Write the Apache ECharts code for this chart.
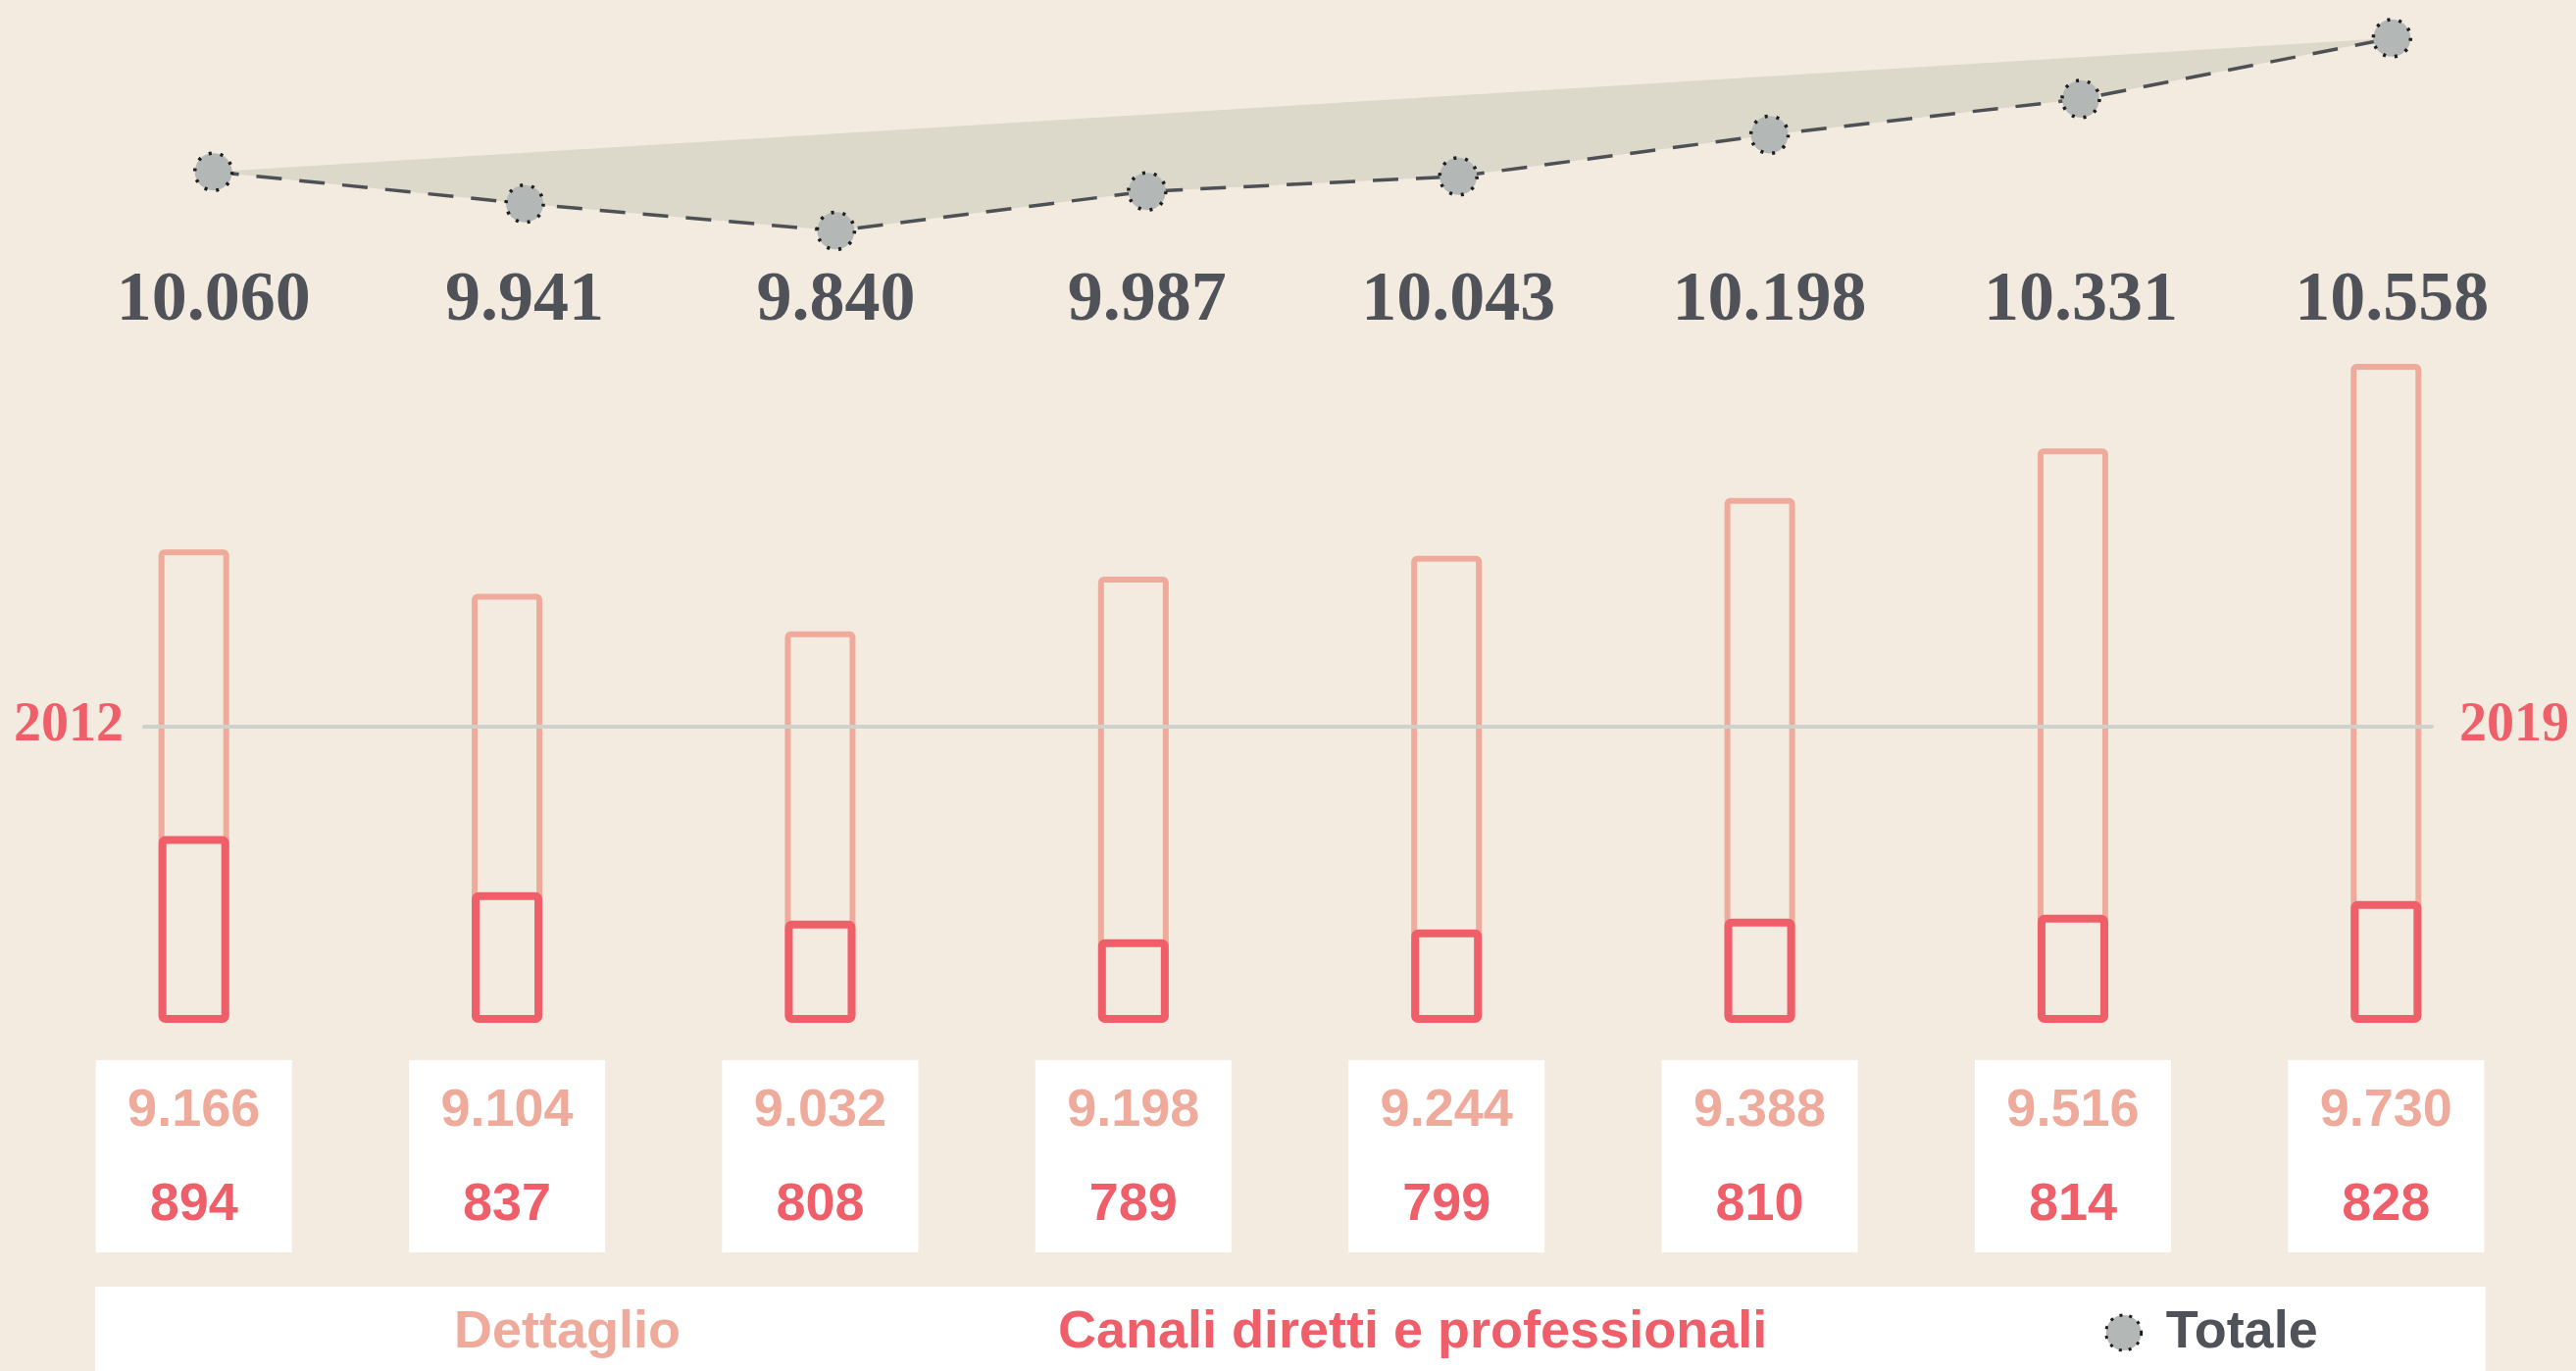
<!DOCTYPE html>
<html>
<head>
<meta charset="utf-8">
<script src="https://cdn.jsdelivr.net/npm/echarts@6/dist/echarts.min.js"></script>
<style>
  html, body { margin: 0; padding: 0; background: #f4ebe0; }
  #chart { width: 2627px; height: 1398px; }
</style>
</head>
<body>
<div id="chart"></div>
<script>
const years = ['2012', '2013', '2014', '2015', '2016', '2017', '2018', '2019']
const totale = [10060, 9941, 9840, 9987, 10043, 10198, 10331, 10558]
const dettaglio = [9166, 9104, 9032, 9198, 9244, 9388, 9516, 9730]
const canali = [894, 837, 808, 789, 799, 810, 814, 828]

const salmon = '#eeaa9a'
const red = '#ef5f6a'
const grey = '#4f5258'

// 10060 -> "10.060"
const fmt = v => String(v).replace(/\B(?=(\d{3})+(?!\d))/g, '.')

const chart = echarts.init(document.getElementById('chart'))

const option = {
    backgroundColor: '#f4ebe0',
    animation: false,
    grid: [
        { left: 59, right: 29, top: 0, height: 260 },
        { left: 38, right: 34, top: 317, bottom: 359 },
        { left: 147, right: 147, top: 720, height: 41 }
    ],
    xAxis: [
        {
            gridIndex: 0,
            type: 'category',
            data: years,
            axisLine: { show: false },
            axisTick: { show: false },
            axisLabel: {
                interval: 0,
                margin: 11,
                formatter: (v, i) => fmt(totale[i]),
                fontFamily: 'Liberation Serif',
                fontWeight: 'bold',
                fontSize: 72,
                lineHeight: 72,
                color: grey
            }
        },
        {
            gridIndex: 1,
            type: 'category',
            data: years,
            axisLine: { show: false },
            axisTick: { show: false },
            axisLabel: {
                interval: 0,
                margin: 42,
                formatter: (v, i) => '{d|' + fmt(dettaglio[i]) + '}\n{c|' + canali[i] + '}',
                backgroundColor: '#ffffff',
                width: 200,
                padding: [4, 0, 0, 0],
                align: 'center',
                rich: {
                    d: { fontFamily: 'Liberation Sans', fontWeight: 'bold', fontSize: 54, lineHeight: 96, color: salmon, width: 200, align: 'center' },
                    c: { fontFamily: 'Liberation Sans', fontWeight: 'bold', fontSize: 54, lineHeight: 96, color: red, width: 200, align: 'center' }
                }
            }
        },
        {
            gridIndex: 2,
            type: 'category',
            data: years,
            z: 5,
            axisLine: { onZero: true, lineStyle: { color: '#cfd1cc', width: 4 } },
            axisTick: { show: false },
            axisLabel: { show: false }
        }
    ],
    yAxis: [
        { gridIndex: 0, type: 'value', min: 9750, max: 10700, show: false },
        { gridIndex: 1, type: 'value', min: 8800, max: 10700, show: false },
        { gridIndex: 1, type: 'value', min: 708, max: 1428, show: false },
        {
            gridIndex: 2, type: 'value', min: -1, max: 1, position: 'left',
            name: years[0], nameLocation: 'middle', nameRotate: 0, nameGap: 21,
            nameTextStyle: { fontFamily: 'Liberation Serif', fontWeight: 'bold', fontSize: 56, color: red },
            axisLine: { show: false }, axisTick: { show: false }, axisLabel: { show: false }, splitLine: { show: false }
        },
        {
            gridIndex: 2, type: 'value', min: -1, max: 1, position: 'right',
            name: years[years.length - 1], nameLocation: 'middle', nameRotate: 0, nameGap: 28,
            nameTextStyle: { fontFamily: 'Liberation Serif', fontWeight: 'bold', fontSize: 56, color: red },
            axisLine: { show: false }, axisTick: { show: false }, axisLabel: { show: false }, splitLine: { show: false }
        }
    ],
    legend: {
        left: 97,
        top: 1312,
        backgroundColor: '#ffffff',
        padding: [20, 171, 40, 325],
        itemGap: 344,
        itemWidth: 36,
        itemHeight: 36,
        selectedMode: false,
        textStyle: { fontFamily: 'Liberation Sans', fontWeight: 'bold', fontSize: 54 },
        data: [
            { name: 'Dettaglio', icon: 'none', textStyle: { color: salmon } },
            { name: 'Canali diretti e professionali', icon: 'none', textStyle: { color: red } },
            {
                name: 'Totale', icon: 'circle',
                itemStyle: { color: '#b3b7b6', borderColor: '#1e1e1e', borderWidth: 3, borderType: [3, 7] },
                textStyle: { color: grey, padding: [0, 0, 0, 20] }
            }
        ]
    },
    series: [
        {
            name: 'area',
            type: 'custom',
            xAxisIndex: 0,
            yAxisIndex: 0,
            z: 1,
            data: totale.map((v, i) => [i, v]),
            encode: { x: 0, y: 1 },
            renderItem: function (params, api) {
                if (params.dataIndex !== 0) return null
                const points = totale.map((v, i) => api.coord([i, v]))
                return {
                    type: 'polygon',
                    shape: { points: points },
                    style: { fill: '#dcd8ca' }
                }
            }
        },
        {
            name: 'Totale',
            type: 'line',
            xAxisIndex: 0,
            yAxisIndex: 0,
            z: 3,
            data: totale,
            symbol: 'circle',
            symbolSize: 38,
            lineStyle: { color: '#4d5055', width: 3.5, type: [26, 18] },
            itemStyle: { color: '#b3b7b6', borderColor: '#1e1e1e', borderWidth: 3.5, borderType: [3, 9] }
        },
        {
            name: 'Dettaglio',
            type: 'bar',
            xAxisIndex: 1,
            yAxisIndex: 1,
            z: 2,
            barWidth: 72,
            data: totale,
            itemStyle: { color: 'rgba(0,0,0,0)', borderColor: salmon, borderWidth: 6, borderRadius: 3 }
        },
        {
            name: 'Canali diretti e professionali',
            type: 'bar',
            xAxisIndex: 1,
            yAxisIndex: 2,
            z: 3,
            barWidth: 72,
            barGap: '-100%',
            data: canali,
            itemStyle: { color: 'rgba(0,0,0,0)', borderColor: red, borderWidth: 8, borderRadius: 3 }
        }
    ]
}

chart.setOption(option)
</script>
</body>
</html>
